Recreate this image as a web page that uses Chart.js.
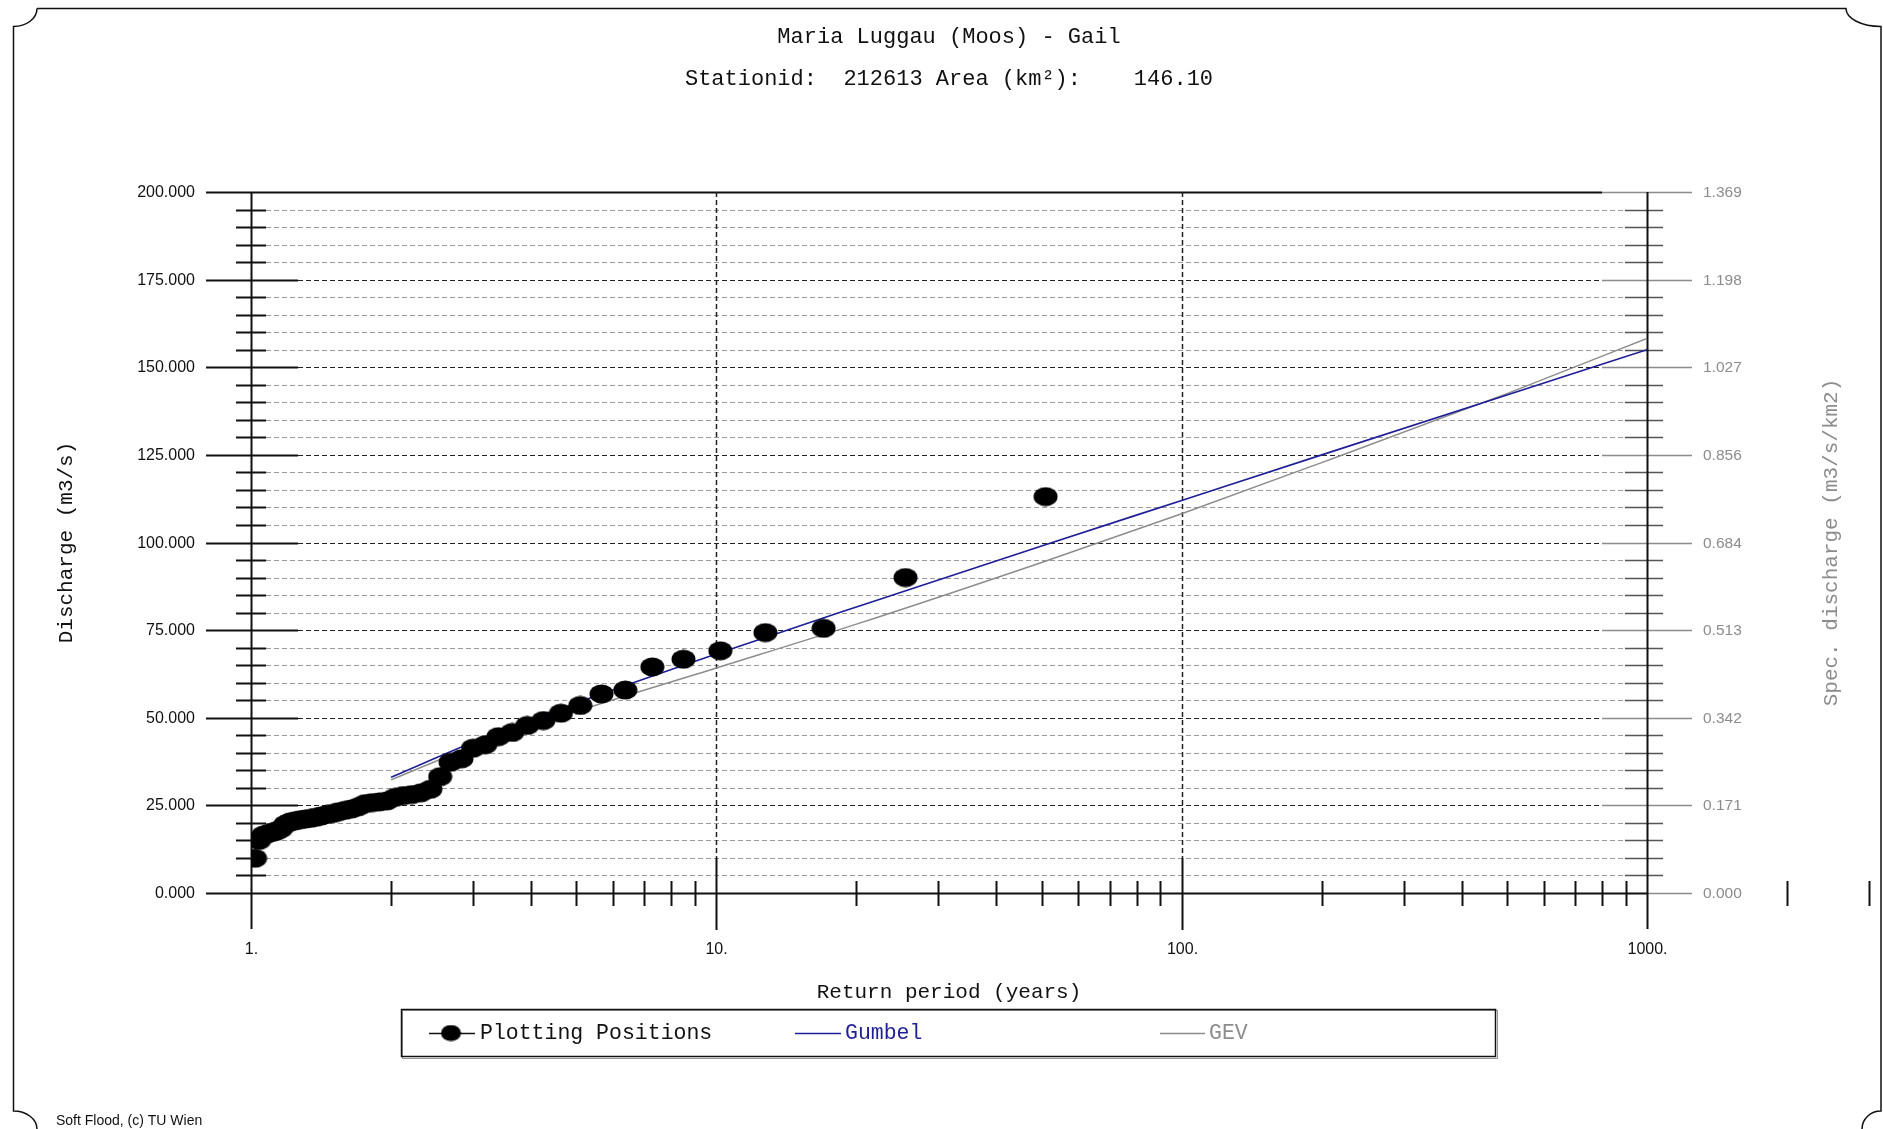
<!DOCTYPE html>
<html>
<head>
<meta charset="utf-8">
<script src="https://cdn.jsdelivr.net/npm/chart.js@4.4.0/dist/chart.umd.min.js"></script>
<style>
html, body { margin: 0; padding: 0; background: #fff; overflow: hidden; }
canvas { display: block; }
</style>
</head>
<body>
<canvas id="chart_div" width="1883" height="1129"></canvas>
<script>
// plotting positions (return period in years, discharge in m3/s), largest first
var returnPeriods = [51, 25.5, 17, 12.75, 10.2, 8.5, 7.2857, 6.375, 5.6667, 5.1,
	4.6364, 4.25, 3.9231, 3.6429, 3.4, 3.1875, 3.0, 2.8333, 2.6842, 2.55,
	2.4286, 2.3182, 2.2174, 2.125, 2.04, 1.9615, 1.8889, 1.8214, 1.7586, 1.7,
	1.6452, 1.5938, 1.5455, 1.5, 1.4571, 1.4167, 1.3784, 1.3421, 1.3077, 1.275,
	1.2439, 1.2143, 1.186, 1.1591, 1.1333, 1.1087, 1.0851, 1.0625, 1.0408, 1.02];
var discharges = [113.1, 90.0, 75.5, 74.3, 69.1, 66.7, 64.5, 57.9, 56.8, 53.5,
	51.3, 49.2, 47.8, 45.8, 44.6, 42.3, 41.3, 38.3, 37.3, 33.2,
	29.6, 28.6, 28.1, 27.8, 27.3, 26.3, 26.0, 25.8, 25.5, 24.6,
	24.0, 23.6, 23.2, 22.7, 22.4, 22.0, 21.6, 21.3, 21.1, 20.9,
	20.6, 20.3, 19.6, 18.3, 17.6, 17.3, 16.9, 16.5, 15.0, 9.9];

// fitted distributions
var fitPeriods = [2, 3, 5, 10, 20, 50, 100, 200, 500, 1000];
var gumbelQ = [33.0, 43.0, 54.2, 68.2, 81.6, 99.0, 112.0, 125.0, 142.1, 155.0];
var gevQ = [32.3, 41.8, 51.8, 64.2, 76.7, 94.3, 108.2, 122.8, 142.5, 158.2];

// axes
var qMajor = [0, 25, 50, 75, 100, 125, 150, 175, 200];
var qLabels = ['0.000', '25.000', '50.000', '75.000', '100.000', '125.000', '150.000', '175.000', '200.000'];
var specTicks = [0, 0.171, 0.342, 0.513, 0.684, 0.856, 1.027, 1.198, 1.369];
var specLabels = ['0.000', '0.171', '0.342', '0.513', '0.684', '0.856', '1.027', '1.198', '1.369'];
var tMajor = [1, 10, 100, 1000];
var tLabels = ['1.', '10.', '100.', '1000.'];
var tMinor = [2, 3, 4, 5, 6, 7, 8, 9, 20, 30, 40, 50, 60, 70, 80, 90,
	200, 300, 400, 500, 600, 700, 800, 900, 2000, 3000, 4000];

var MONO = '"Liberation Mono", "DejaVu Sans Mono", monospace';
var SANS = '"Liberation Sans", Arial, sans-serif';
var BLUE = '#1e1e96';
var GREY = '#8c8c8c';

function dot(w, h) {
	var c = document.createElement('canvas');
	c.width = w; c.height = h;
	var g = c.getContext('2d');
	g.fillStyle = '#000';
	g.beginPath();
	g.ellipse(w / 2, h / 2, w / 2 - 0.5, h / 2 - 0.5, 0, 0, Math.PI * 2);
	g.fill();
	return c;
}
var bigDot = dot(25, 20);
var smallDot = dot(21, 17);

function line(ctx, x0, y0, x1, y1, color, width, dash) {
	ctx.save();
	ctx.strokeStyle = color;
	ctx.lineWidth = width;
	ctx.setLineDash(dash || []);
	ctx.beginPath();
	ctx.moveTo(x0, y0);
	ctx.lineTo(x1, y1);
	ctx.stroke();
	ctx.restore();
}

function text(ctx, s, x, y, font, color, align, rot) {
	ctx.save();
	ctx.font = font;
	ctx.fillStyle = color;
	ctx.textAlign = align || 'center';
	ctx.textBaseline = 'middle';
	ctx.translate(x, y);
	if (rot) ctx.rotate(rot);
	ctx.fillText(s, 0, 0);
	ctx.restore();
}

var softFlood = {
	id: 'softFlood',
	beforeDraw: function (chart) {
		var ctx = chart.ctx;
		ctx.save();
		ctx.fillStyle = '#fff';
		ctx.fillRect(0, 0, chart.width, chart.height);
		ctx.restore();
	},
	beforeDatasetsDraw: function (chart) {
		var ctx = chart.ctx, xs = chart.scales.x, ys = chart.scales.y, ys2 = chart.scales.y2;
		var ax0 = Math.round(xs.getPixelForValue(1)), ax1 = Math.round(xs.getPixelForValue(1000));
		var ay0 = Math.round(ys.getPixelForValue(0)), ay1 = Math.round(ys.getPixelForValue(200));

		// minor horizontal lines every 5 m3/s
		for (var q = 5; q < 200; q += 5) {
			if (q % 25 === 0) continue;
			var y = Math.round(ys.getPixelForValue(q)) + 0.5;
			line(ctx, ax0 - 15, y, ax0 + 15, y, '#111', 2);
			line(ctx, ax0 + 15, y, ax1 - 22, y, '#9a9a9a', 1, [5, 3]);
			line(ctx, ax1 - 22, y, ax1 + 16, y, '#555', 1.5);
		}
		// major horizontal lines
		qMajor.forEach(function (v, i) {
			var y = Math.round(ys.getPixelForValue(v)) + 0.5;
			line(ctx, ax0 - 45, y, ax0 + 47, y, '#111', 2);
			if (v === 0) {
				line(ctx, ax0 + 47, y, ax1, y, '#111', 2);
				line(ctx, ax1, y, ax1 + 45, y, GREY, 1.5);
			} else if (v === 200) {
				line(ctx, ax0 + 47, y, ax1 - 45, y, '#111', 2);
				line(ctx, ax1 - 45, y, ax1 + 45, y, GREY, 1.5);
			} else {
				line(ctx, ax0 + 47, y, ax1 - 45, y, '#222', 1, [5, 3]);
				line(ctx, ax1 - 45, y, ax1 + 45, y, GREY, 1.5);
			}
			text(ctx, qLabels[i], ax0 - 56, y, '16px ' + SANS, '#111', 'right');
		});
		specTicks.forEach(function (v, i) {
			var y = Math.round(ys2.getPixelForValue(v)) + 0.5;
			text(ctx, specLabels[i], ax1 + 56, y, '15.5px ' + SANS, GREY, 'left');
		});

		// vertical lines
		tMajor.forEach(function (v, i) {
			var x = Math.round(xs.getPixelForValue(v)) + 0.5;
			if (v === 1 || v === 1000) {
				line(ctx, x, ay1, x, ay0 + 36, '#111', 2);
			} else {
				line(ctx, x, ay1, x, ay0 - 35, '#222', 1.5, [5, 3]);
				line(ctx, x, ay0 - 35, x, ay0 + 37, '#111', 2);
			}
			text(ctx, tLabels[i], x, ay0 + 57, '16px ' + SANS, '#111', 'center');
		});
		tMinor.forEach(function (v) {
			var x = Math.round(xs.getPixelForValue(v)) + 0.5;
			line(ctx, x, ay0 - 12, x, ay0 + 13, '#111', 2);
		});
	},
	afterDraw: function (chart) {
		var ctx = chart.ctx, ca = chart.chartArea;
		var cx = (ca.left + ca.right) / 2, cy = (ca.top + ca.bottom) / 2;

		text(ctx, 'Maria Luggau (Moos) - Gail', cx, 37, '22px ' + MONO, '#111');
		text(ctx, 'Stationid:  212613 Area (km\u00b2):    146.10', cx, 79, '22px ' + MONO, '#111');
		text(ctx, 'Discharge (m3/s)', 66, cy, '21px ' + MONO, '#111', 'center', -Math.PI / 2);
		text(ctx, 'Spec. discharge (m3/s/km2)', 1831, cy, '21px ' + MONO, GREY, 'center', -Math.PI / 2);
		text(ctx, 'Return period (years)', cx, 992, '21px ' + MONO, '#111');
		text(ctx, 'Soft Flood, (c) TU Wien', 56, 1121, '14px ' + SANS, '#111', 'left');

		// legend box
		ctx.save();
		ctx.strokeStyle = '#999';
		ctx.lineWidth = 1;
		ctx.strokeRect(402.5, 1010.5, 1095, 48);
		ctx.strokeStyle = '#111';
		ctx.lineWidth = 1.5;
		ctx.strokeRect(401.5, 1009.5, 1094, 47);
		ctx.restore();
		var ly = 1033;
		line(ctx, 429, ly + 0.5, 475, ly + 0.5, '#111', 1.5);
		ctx.drawImage(smallDot, 451 - smallDot.width / 2, ly - smallDot.height / 2);
		text(ctx, 'Plotting Positions', 480, ly, '21.5px ' + MONO, '#111', 'left');
		line(ctx, 795, ly + 0.5, 841, ly + 0.5, BLUE, 1.5);
		text(ctx, 'Gumbel', 845, ly, '21.5px ' + MONO, BLUE, 'left');
		line(ctx, 1160, ly + 0.5, 1205, ly + 0.5, GREY, 1.5);
		text(ctx, 'GEV', 1209, ly, '21.5px ' + MONO, GREY, 'left');

		// frame with notched corners
		ctx.save();
		ctx.strokeStyle = '#111';
		ctx.lineWidth = 1.5;
		ctx.beginPath();
		ctx.moveTo(37, 8.5);
		ctx.lineTo(1846, 8.5);
		ctx.ellipse(1881, 8.5, 35, 18, 0, Math.PI, Math.PI / 2, true);
		ctx.lineTo(1881, 1111);
		ctx.ellipse(1881, 1129, 19, 18, 0, -Math.PI / 2, -Math.PI, true);
		ctx.moveTo(37, 1129);
		ctx.ellipse(13.5, 1129, 23.5, 18, 0, 0, -Math.PI / 2, true);
		ctx.lineTo(13.5, 26.5);
		ctx.ellipse(13.5, 8.5, 23.5, 18, 0, Math.PI / 2, 0, true);
		ctx.stroke();
		ctx.restore();
	}
};

new Chart(document.getElementById('chart_div'), {
	type: 'line',
	plugins: [softFlood],
	data: {
		datasets: [
			{
				label: 'Plotting Positions',
				data: returnPeriods.map(function (t, i) { return { x: t, y: discharges[i] }; }),
				showLine: false,
				pointStyle: bigDot,
				pointRadius: 10,
				order: 0
			},
			{
				label: 'Gumbel',
				data: fitPeriods.map(function (t, i) { return { x: t, y: gumbelQ[i] }; }),
				borderColor: BLUE,
				borderWidth: 1.6,
				pointRadius: 0,
				cubicInterpolationMode: 'monotone',
				order: 1
			},
			{
				label: 'GEV',
				data: fitPeriods.map(function (t, i) { return { x: t, y: gevQ[i] }; }),
				borderColor: GREY,
				borderWidth: 1.4,
				pointRadius: 0,
				cubicInterpolationMode: 'monotone',
				order: 2
			}
		]
	},
	options: {
		responsive: false,
		devicePixelRatio: 1,
		animation: false,
		layout: { padding: { left: 251, right: 236, top: 192, bottom: 236 } },
		scales: {
			x: { type: 'logarithmic', min: 1, max: 1000, display: false },
			y: { type: 'linear', min: 0, max: 200, display: false },
			y2: { type: 'linear', min: 0, max: 1.369, display: false, position: 'right' }
		},
		plugins: {
			legend: { display: false },
			tooltip: { enabled: false },
			title: { display: false }
		}
	}
});
</script>
</body>
</html>
